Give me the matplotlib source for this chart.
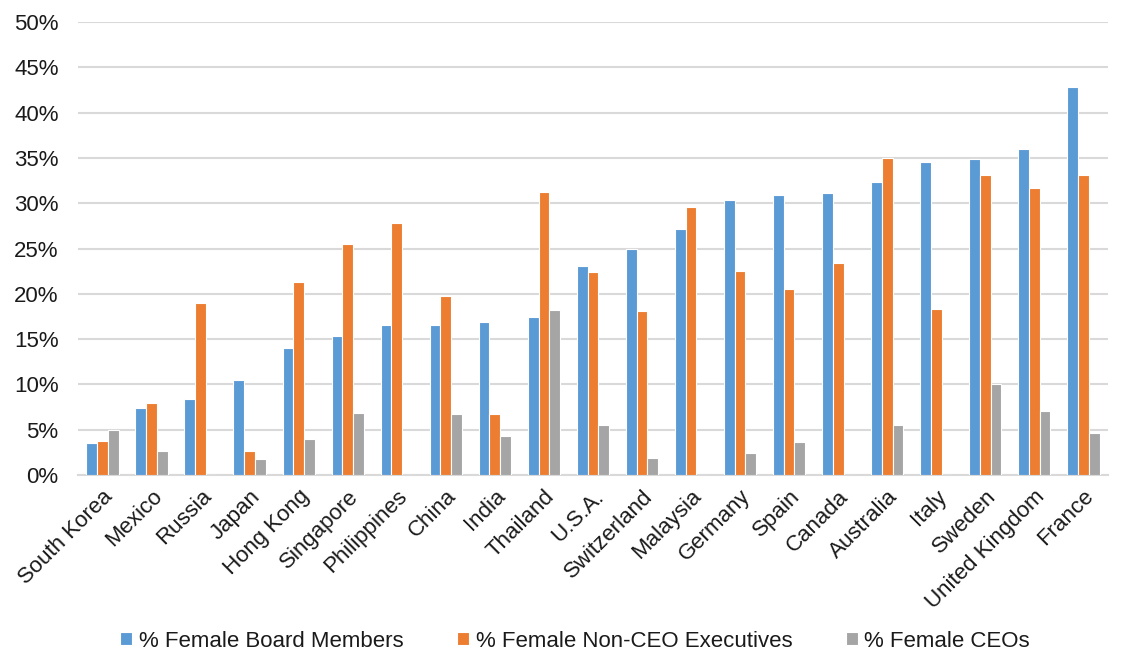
import matplotlib.pyplot as plt
import numpy as np

plt.rcParams['font.family'] = ['Liberation Sans', 'DejaVu Sans']

countries = ["South Korea", "Mexico", "Russia", "Japan", "Hong Kong", "Singapore",
             "Philippines", "China", "India", "Thailand", "U.S.A.", "Switzerland",
             "Malaysia", "Germany", "Spain", "Canada", "Australia", "Italy",
             "Sweden", "United Kingdom", "France"]
board = [3.5, 7.4, 8.4, 10.5, 14.0, 15.3, 16.6, 16.6, 16.9, 17.4, 23.1, 25.0,
         27.2, 30.4, 30.9, 31.1, 32.3, 34.6, 34.9, 36.0, 42.8]
non_ceo = [3.7, 7.9, 19.0, 2.6, 21.3, 25.5, 27.8, 19.8, 6.7, 31.2, 22.4, 18.1,
           29.6, 22.5, 20.5, 23.4, 35.0, 18.3, 33.1, 31.7, 33.1]
ceo = [5.0, 2.6, 0, 1.7, 4.0, 6.8, 0, 6.7, 4.3, 18.2, 5.5, 1.9,
       0, 2.4, 3.6, 0, 5.5, 0, 10.0, 7.0, 4.6]
series_names = ["% Female Board Members", "% Female Non-CEO Executives", "% Female CEOs"]
colors = ["#5B9BD5", "#ED7D31", "#A5A5A5"]

fig = plt.figure(figsize=(11.23, 6.54), dpi=100)
ax = fig.add_axes([0.0695, 0.274, 0.917, 0.692])

x = np.arange(len(countries))
w = 0.22
for i, (vals, name, c) in enumerate(zip([board, non_ceo, ceo], series_names, colors)):
    ax.bar(x + (i - 1) * w, vals, width=w, color=c, edgecolor='white',
           linewidth=0.8, label=name, zorder=3)

ax.set_xlim(-0.5, len(countries) - 0.5)
ax.set_ylim(0, 50)
ax.set_yticks(np.arange(0, 51, 5))
ax.set_yticklabels([f"{v}%" for v in range(0, 51, 5)])
ax.set_xticks(x)
ax.set_xticklabels(countries, rotation=45, ha='right', rotation_mode='anchor')
ax.tick_params(axis='both', length=0, labelsize=16, colors='#1a1a1a')
ax.tick_params(axis='y', pad=14)
ax.tick_params(axis='x', pad=8)
ax.grid(axis='y', color='#D9D9D9', linewidth=1.5, zorder=0)
for s in ['top', 'right', 'left']:
    ax.spines[s].set_visible(False)
ax.spines['bottom'].set_color('#D9D9D9')
ax.spines['bottom'].set_linewidth(1.5)

fig.legend(loc='lower center', bbox_to_anchor=(0.512, -0.027), ncol=3, frameon=False,
           fontsize=16, handlelength=0.55, handleheight=0.55, columnspacing=2.4,
           handletextpad=0.3, labelcolor='#1a1a1a')

fig.savefig("out.png", dpi=100)
